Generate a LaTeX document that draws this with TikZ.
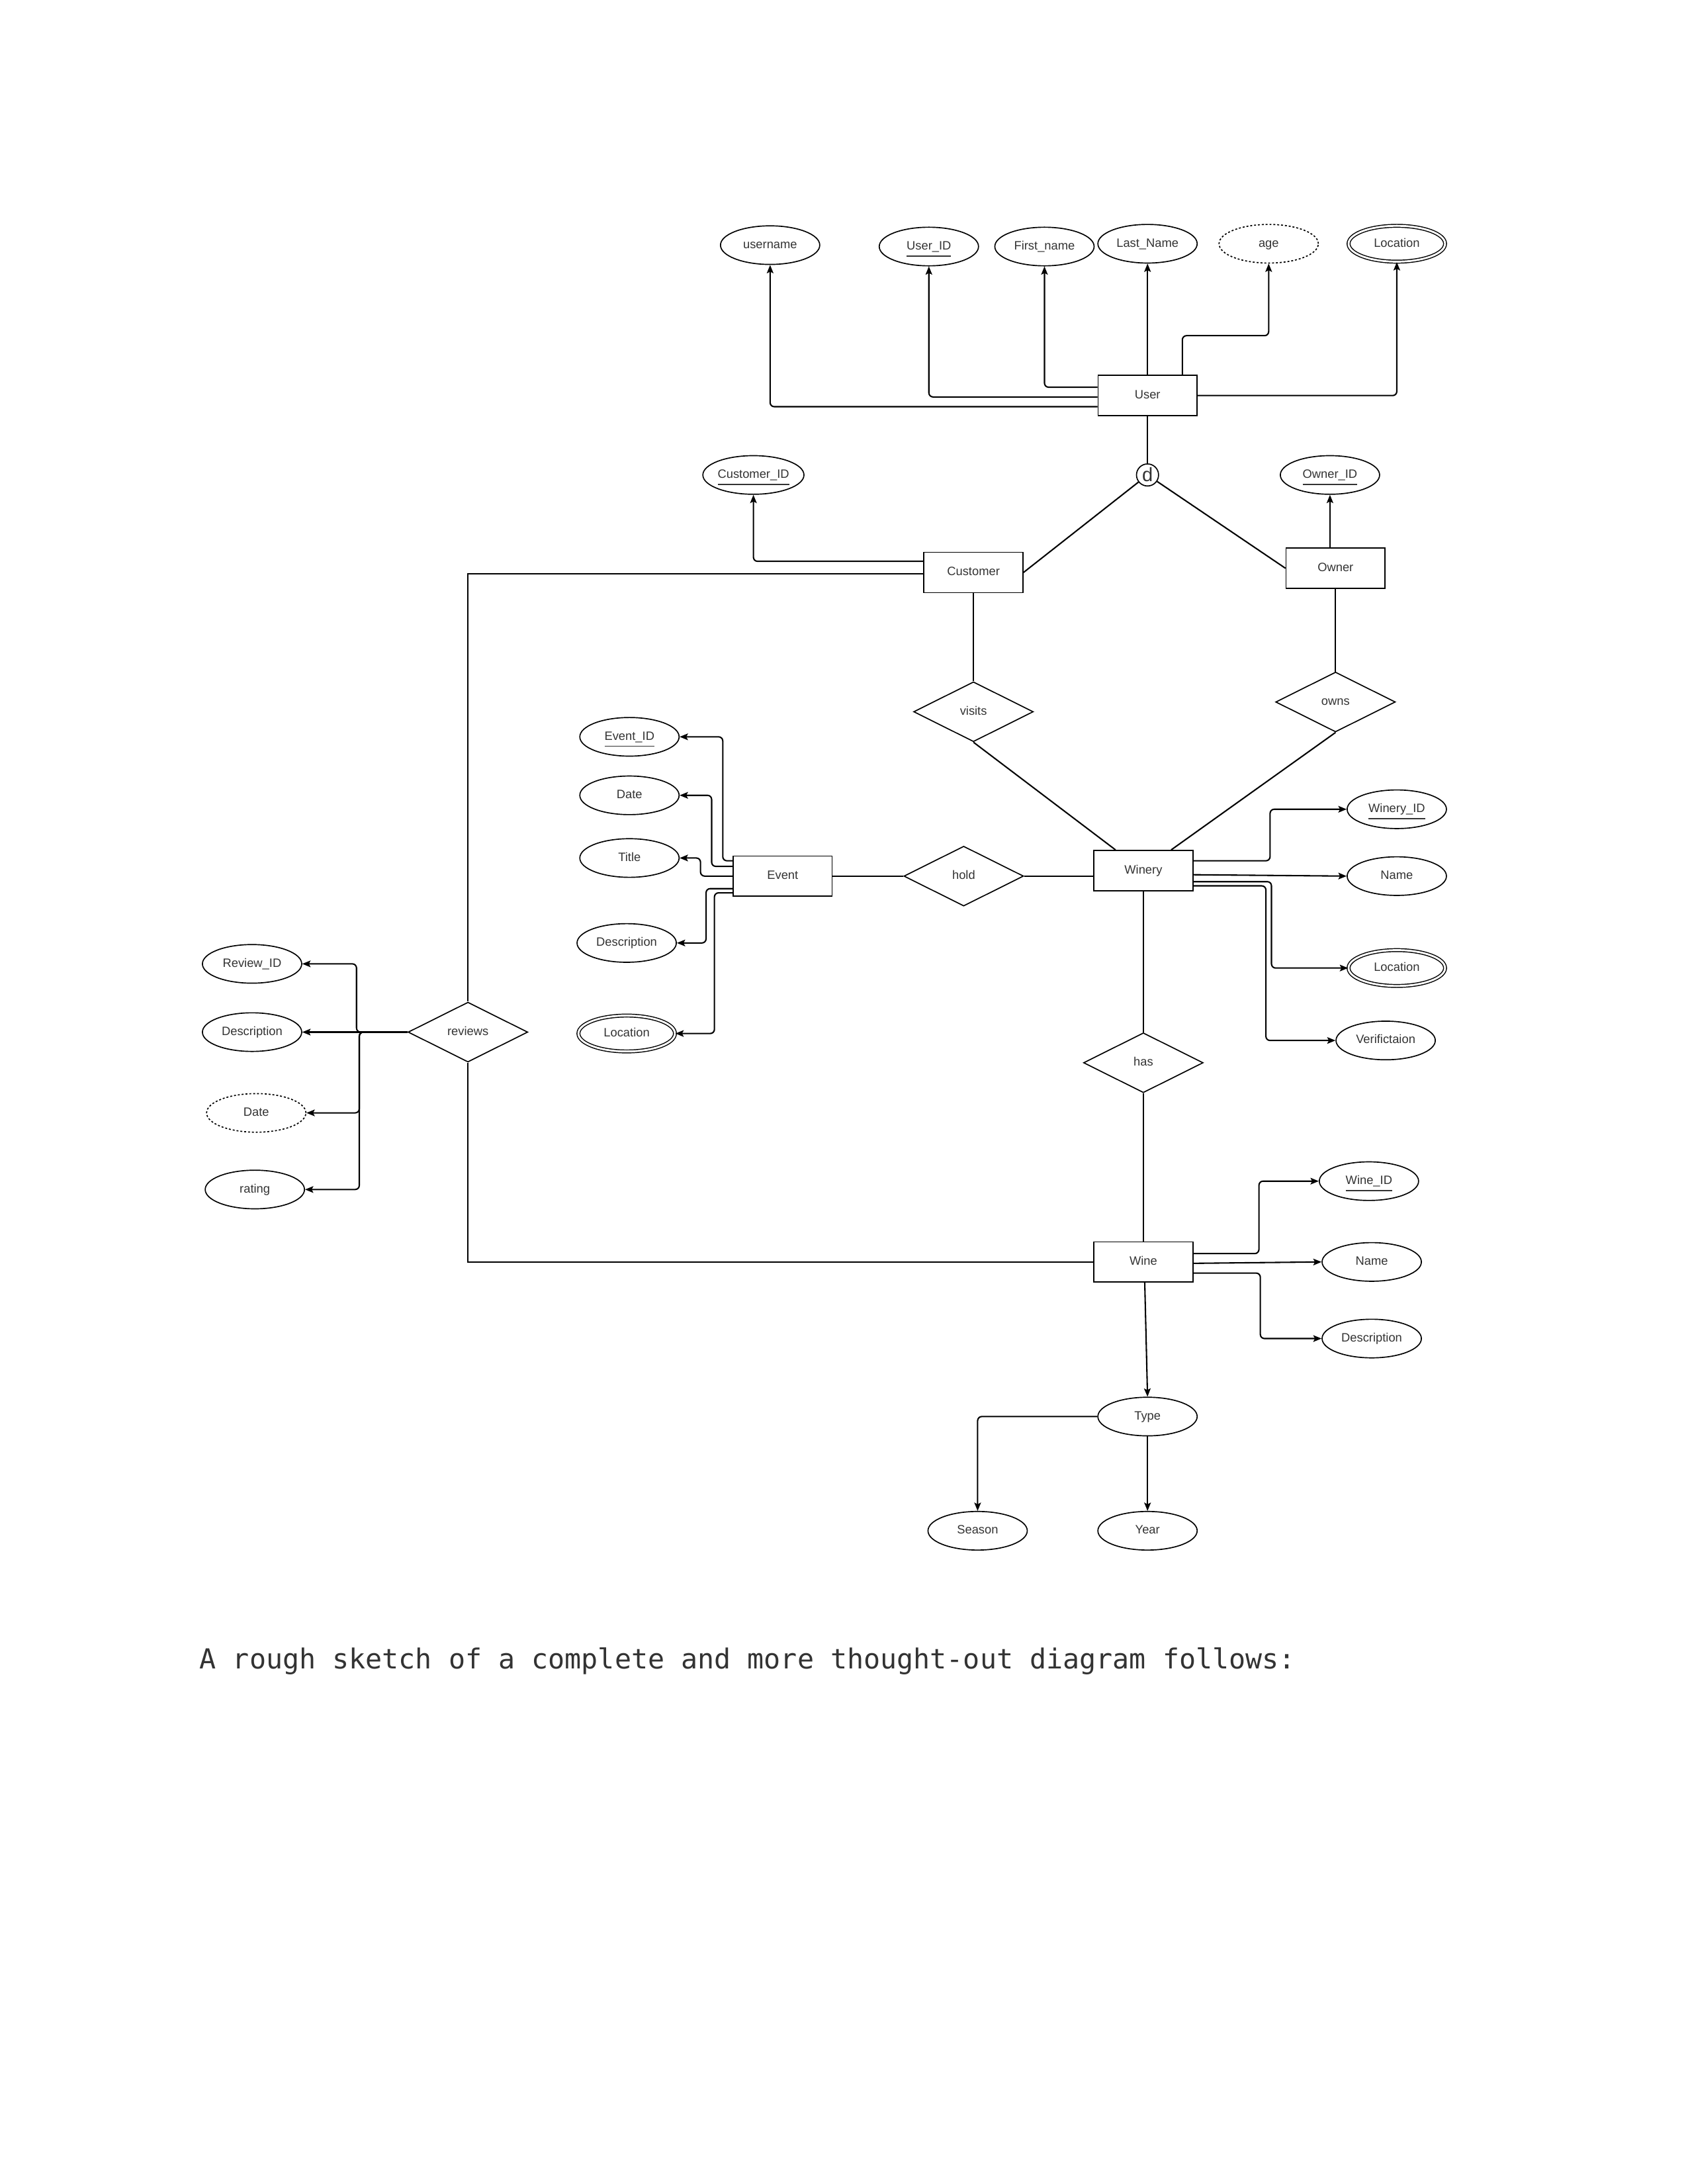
\documentclass[tikz,border=0pt]{standalone}
\usepackage{fontspec}
\setmainfont{Liberation Sans}
\newfontfamily\capfont{DejaVu Sans Mono}
\usetikzlibrary{shapes.geometric,arrows.meta}
\begin{document}
\begin{tikzpicture}[x=0.50495pt,y=-0.50495pt,
  every node/.style={font=\fontsize{4.4}{5}\selectfont, text=black!80, inner sep=0pt},
  lbl/.style={text height=3.2pt, text depth=0.9pt},
  attr/.style={lbl, ellipse, draw, line width=0.4pt, minimum width=36pt, minimum height=14pt},
  dattr/.style={attr, dash pattern=on 0.7pt off 0.7pt},
  mattr/.style={attr, double, double distance=0.7pt, line width=0.35pt, minimum width=35pt, minimum height=13pt},
  ent/.style={lbl, rectangle, draw, line width=0.4pt, minimum width=35.9pt, minimum height=14.6pt},
  rel/.style={lbl, diamond, draw, line width=0.4pt, minimum width=43.4pt, minimum height=21.7pt},
  conn/.style={draw, line width=0.5pt, rounded corners=1.5pt},
  arr/.style={conn, -{Stealth[length=3pt,width=2.4pt,inset=0.6pt]}}
]
\useasboundingbox[fill=white] (0,0) rectangle (1212,1568);

% User and attributes
\node[attr] (username) at (553,176) {username};
\node[attr] (UserID) at (667,177) {\underline{User\_ID}};
\node[attr] (Firstname) at (750,177) {First\_name};
\node[attr] (Lastname) at (824,175) {Last\_Name};
\node[dattr] (age) at (911,175) {age};
\node[mattr] (ULoc) at (1003,175) {Location};
\node[ent] (User) at (824,284) {User};
\node[circle, draw, line width=0.4pt, minimum size=8pt, text height=4.9pt, text depth=0.1pt, font=\fontsize{7}{7}\selectfont] (d) at (824,341) {d};

% Customer / Owner
\node[attr] (CustID) at (541,341) {\underline{Customer\_ID}};
\node[attr] (OwnerID) at (955,341) {\underline{Owner\_ID}};
\node[ent] (Customer) at (699,411) {Customer};
\node[ent] (Owner) at (959,408) {Owner};
\node[rel] (visits) at (699,511) {visits};
\node[rel] (owns) at (959,504) {owns};

% Event
\node[attr] (EventID) at (452,529) {\underline{Event\_ID}};
\node[attr] (EDate) at (452,571) {Date};
\node[attr] (ETitle) at (452,616) {Title};
\node[attr] (EDesc) at (450,677) {Description};
\node[mattr] (ELoc) at (450,742) {Location};
\node[ent] (Event) at (562,629) {Event};
\node[rel] (hold) at (692,629) {hold};

% Winery
\node[ent] (Winery) at (821,625) {Winery};
\node[attr] (WineryID) at (1003,581) {\underline{Winery\_ID}};
\node[attr] (WName) at (1003,629) {Name};
\node[mattr] (WLoc) at (1003,695) {Location};
\node[attr] (Verif) at (995,747) {Verifictaion};
\node[rel] (has) at (821,763) {has};

% Reviews
\node[rel] (reviews) at (336,741) {reviews};
\node[attr] (ReviewID) at (181,692) {Review\_ID};
\node[attr] (RDesc) at (181,741) {Description};
\node[dattr] (RDate) at (184,799) {Date};
\node[attr] (rating) at (183,854) {rating};

% Wine
\node[ent] (Wine) at (821,906) {Wine};
\node[attr] (WineID) at (983,848) {\underline{Wine\_ID}};
\node[attr] (WiName) at (985,906) {Name};
\node[attr] (WiDesc) at (985,961) {Description};
\node[attr] (Type) at (824,1017) {Type};
\node[attr] (Season) at (702,1099) {Season};
\node[attr] (Year) at (824,1099) {Year};

% User connectors
\draw[arr] (User.west |- 0,292) -| (username.south);
\draw[arr] (User.west |- 0,285) -| (UserID.south);
\draw[arr] (User.west |- 0,278) -| (Firstname.south);
\draw[arr] (User.north) -- (Lastname.south);
\draw[arr] (User.north -| 849,0) |- (age.south |- 0,241) -- (age.south);
\draw[arr] (User.east) -| (ULoc.south);
\draw[conn] (User.south) -- (d.north);
\draw[conn] (d) -- (Customer.east);
\draw[conn] (d) -- (Owner.west);

% Customer / Owner connectors
\draw[arr] (Customer.west |- 0,403) -| (CustID.south);
\draw[arr] (Owner.north -| OwnerID.south) -- (OwnerID.south);
\draw[conn, rounded corners=0pt] (Customer.west |- 0,412) -| (reviews.north);
\draw[conn] (Customer.south) -- (visits.north);
\draw[conn] (Owner.south) -- (owns.north);
\draw[conn] (visits.south) -- (Winery.north -| 801,0);
\draw[conn] (owns.south) -- (Winery.north -| 841,0);

% Event connectors
\draw[arr] (Event.west |- 0,618) -| (EventID.east -| 519,0) -- (EventID.east);
\draw[arr] (Event.west |- 0,622) -| (EDate.east -| 511,0) -- (EDate.east);
\draw[arr] (Event.west) -| (ETitle.east -| 503,0) -- (ETitle.east);
\draw[arr] (Event.west |- 0,638) -| (EDesc.east -| 507,0) -- (EDesc.east);
\draw[arr] (Event.west |- 0,641) -| (ELoc.east -| 513,0) -- (ELoc.east);
\draw[conn] (Event.east) -- (hold.west);
\draw[conn] (hold.east) -- (hold.east -| Winery.west);

% Winery connectors
\draw[arr] (Winery.east |- 0,618) -| (WineryID.west -| 912,0) -- (WineryID.west);
\draw[arr] (Winery.east |- 0,628) -- (WName.west);
\draw[arr] (Winery.east |- 0,633) -| (WLoc.west -| 913,0) -- (WLoc.west);
\draw[arr] (Winery.east |- 0,636) -| (Verif.west -| 909,0) -- (Verif.west);
\draw[conn] (Winery.south) -- (has.north);
\draw[conn] (has.south) -- (Wine.north);

% Reviews connectors
\draw[arr] (reviews.west) -| (ReviewID.east -| 256,0) -- (ReviewID.east);
\draw[arr] (reviews.west) -- (RDesc.east);
\draw[arr] (reviews.west) -| (RDate.east -| 258,0) -- (RDate.east);
\draw[arr] (reviews.west) -| (rating.east -| 258,0) -- (rating.east);
\draw[conn, rounded corners=0pt] (reviews.south) |- (Wine.west);

% Wine connectors
\draw[arr] (Wine.east |- 0,900) -| (WineID.west -| 904,0) -- (WineID.west);
\draw[arr] (Wine.east |- 0,907) -- (WiName.west);
\draw[arr] (Wine.east |- 0,914) -| (WiDesc.west -| 905,0) -- (WiDesc.west);
\draw[arr] (Wine.south -| 822,0) -- (Type.north);
\draw[arr] (Type.west) -| (Season.north);
\draw[arr] (Type.south) -- (Year.north);

% Caption
\node[anchor=base west, font=\capfont\fontsize{10}{12}\selectfont, text=black!80] (caption) at (143,1198) {A rough sketch of a complete and more thought-out diagram follows:};
\end{tikzpicture}
\end{document}
